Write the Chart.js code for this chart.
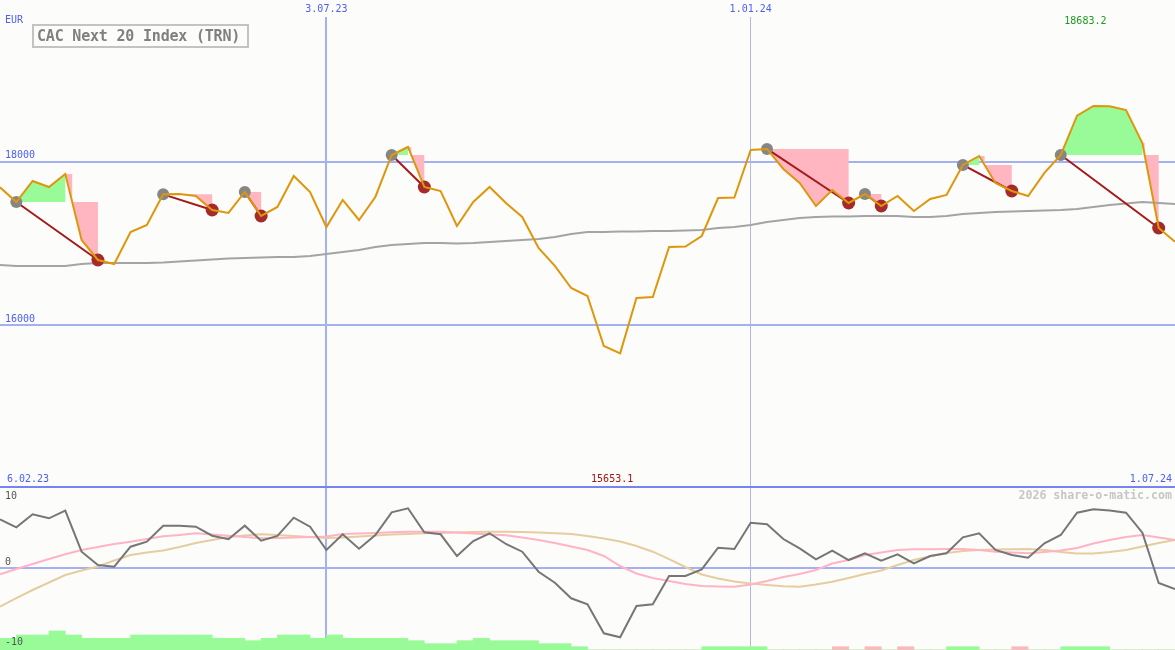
<!DOCTYPE html>
<html>
<head>
<meta charset="utf-8">
<title>CAC Next 20 Index (TRN)</title>
<script src="https://cdn.jsdelivr.net/npm/chart.js@4.4.1/dist/chart.umd.min.js"></script>
<style>
  html, body { margin:0; padding:0; background:#fcfdfa; overflow:hidden; }
  #wrap { position:relative; width:1175px; height:650px; background:#fcfdfa; }
  canvas { position:absolute; left:0; display:block; }
  #cTop { top:0; }
  #cBot { top:488px; }
  .t { position:absolute; font-family:"DejaVu Sans Mono", monospace; white-space:nowrap; line-height:1; }
  #sep { position:absolute; left:0; top:486px; width:1175px; height:2px; background:#7584ee; }
  #legend { position:absolute; left:32px; top:24px; width:217px; height:24px; box-sizing:border-box;
            border:2px solid #c3c3c3; font-family:"DejaVu Sans Mono", monospace; font-size:15px;
            font-weight:bold; color:#808080; line-height:20px; padding-left:3px; white-space:nowrap;
            letter-spacing:-0.2px; }
</style>
</head>
<body>
<div id="wrap">
  <canvas id="cTop" width="1175" height="486"></canvas>
  <canvas id="cBot" width="1175" height="162"></canvas>
  <div id="sep"></div>
  <div class="t" style="left:5px;top:15px;font-size:10px;color:#4d5ef2">EUR</div>
  <div id="legend">CAC Next 20 Index (TRN)</div>
  <div class="t" style="left:7px;top:474px;font-size:10px;color:#4d5ef2">6.02.23</div>
  <div class="t" style="right:3px;top:474px;font-size:10px;color:#4d5ef2">1.07.24</div>
  <div class="t" style="right:3px;top:490px;font-size:11.6px;font-weight:bold;color:#c6c6c6">2026 share-o-matic.com</div>
</div>
<script>
// ---------- data ----------
const startWeek = 1;                       // week position of the first value
const dateTicks = [21, 47];
const dateTickLabels = ['3.07.23', '1.01.24'];
const priceTicks = [16000, 18000];
const oscTicks = [10, 0, -10];

const price = [
  17686, 17506, 17764, 17690, 17849, 17041, 16796, 16747, 17139, 17225,
  17600, 17605, 17580, 17408, 17372, 17629, 17335, 17445, 17825, 17629,
  17200, 17531, 17286, 17568, 18082, 18180, 17690, 17641, 17213, 17506,
  17690, 17494, 17323, 16943, 16723, 16453, 16355, 15743, 15653.1, 16331,
  16343, 16955, 16960, 17090, 17555, 17560, 18143, 18156, 17911, 17739,
  17457, 17653, 17494, 17604, 17457, 17580, 17396, 17543, 17592, 17960,
  18070, 17739, 17641, 17580, 17862, 18082, 18563, 18683.2, 18680, 18633,
  18229, 17188, 17020
];
const avg = [
  16735, 16723, 16723, 16723, 16723, 16747, 16759, 16759, 16759, 16759,
  16766, 16778, 16790, 16802, 16815, 16821, 16827, 16833, 16833, 16845,
  16870, 16894, 16919, 16955, 16980, 16992, 17004, 17004, 16998, 17004,
  17017, 17029, 17041, 17053, 17078, 17115, 17139, 17139, 17145, 17145,
  17151, 17151, 17157, 17164, 17188, 17200, 17225, 17262, 17286, 17311,
  17323, 17329, 17329, 17335, 17335, 17335, 17323, 17323, 17335, 17359,
  17372, 17384, 17390, 17396, 17402, 17408, 17421, 17445, 17470, 17488,
  17506, 17494, 17482
];
const entryWeeks = [2, 11, 16, 25, 48, 54, 60, 66];
const exitWeeks  = [7, 14, 17, 27, 53, 55, 63, 72];

const momentum = [
  7.38, 6.17, 8.14, 7.53, 8.68, 2.47, 0.45, 0.20, 3.23, 3.98,
  6.41, 6.41, 6.26, 4.89, 4.35, 6.41, 4.14, 4.85, 7.62, 6.26,
  2.73, 5.11, 2.92, 5.00, 8.44, 9.05, 5.41, 5.11, 1.82, 4.09,
  5.26, 3.64, 2.47, -0.56, -2.23, -4.59, -5.50, -9.89, -10.50, -5.76,
  -5.50, -1.21, -1.21, -0.20, 3.08, 2.88, 6.86, 6.62, 4.39, 2.98,
  1.32, 2.62, 1.21, 2.23, 1.11, 2.08, 0.71, 1.82, 2.23, 4.65,
  5.26, 2.73, 1.97, 1.56, 3.74, 5.00, 8.38, 8.89, 8.71, 8.38,
  5.35, -2.27, -3.18
];
const oscPink = [
  -0.95, -0.15, 0.61, 1.36, 2.08, 2.73, 3.18, 3.64, 3.98, 4.39,
  4.80, 5.00, 5.26, 5.08, 4.89, 4.70, 4.50, 4.55, 4.62, 4.70,
  4.77, 5.15, 5.23, 5.30, 5.41, 5.50, 5.50, 5.50, 5.38, 5.23,
  5.08, 4.95, 4.62, 4.24, 3.79, 3.26, 2.73, 1.82, 0.30, -0.83,
  -1.52, -1.97, -2.42, -2.73, -2.80, -2.83, -2.50, -1.97, -1.36, -0.91,
  -0.30, 0.68, 1.21, 1.97, 2.35, 2.73, 2.83, 2.85, 2.88, 2.88,
  2.73, 2.47, 2.35, 2.23, 2.42, 2.65, 3.03, 3.71, 4.24, 4.70,
  5.00, 4.62, 4.24
];
const oscTan = [
  -5.86, -4.55, -3.33, -2.20, -1.06, -0.38, 0.23, 1.14, 1.97, 2.35,
  2.65, 3.18, 3.79, 4.24, 4.70, 4.92, 5.11, 5.00, 4.85, 4.70,
  4.55, 4.62, 4.77, 4.92, 5.06, 5.15, 5.26, 5.30, 5.38, 5.45,
  5.50, 5.50, 5.45, 5.38, 5.26, 5.15, 4.85, 4.47, 4.02, 3.33,
  2.47, 1.36, 0.15, -0.98, -1.59, -2.05, -2.35, -2.58, -2.76, -2.83,
  -2.50, -2.08, -1.52, -0.91, -0.38, 0.45, 1.21, 1.77, 2.27, 2.58,
  2.73, 2.80, 2.85, 2.88, 2.73, 2.42, 2.20, 2.20, 2.42, 2.73,
  3.26, 3.79, 4.24
];
const barGreen = [
  11.7, 15, 15, 19, 15, 11.7, 11.7, 11.7, 15, 15,
  15, 15, 15, 11.7, 11.7, 9.3, 11.7, 15, 15, 11.7,
  15, 11.7, 11.7, 11.7, 11.7, 9.3, 6.3, 6.3, 9.3, 11.7,
  9.3, 9.3, 9.3, 6.3, 6.3, 3.3, 0, 0, 0, 0,
  0, 0, 0, 3.3, 3.3, 3.3, 3.3, 0, 0, 0,
  0, 0, 0, 0, 0, 0, 0, 0, 3.3, 3.3,
  0, 0, 0, 0, 0, 3.3, 3.3, 3.3, 0, 0,
  0, 0
];
const barPink = [
  0, 0, 0, 0, 0, 0, 0, 0, 0, 0,
  0, 0, 0, 0, 0, 0, 0, 0, 0, 0,
  0, 0, 0, 0, 0, 0, 0, 0, 0, 0,
  0, 0, 0, 0, 0, 0, 0, 0, 0, 0,
  0, 0, 0, 0, 0, 0, 0, 0, 0, 0,
  0, 3.3, 0, 3.3, 0, 3.3, 0, 0, 0, 0,
  0, 0, 3.3, 0, 0, 0, 0, 0, 0, 0,
  0, 0
];

// ---------- styles ----------
const C = {
  price:'#df960c', avg:'#a4a4a4', link:'#a31a1a', entry:'#868686', exit:'#a52a2a',
  green:'#98fb98', pink:'#ffb6c1', grid:'#a3b1f3', grid2:'#b3b8de', blue:'#4d5ef2',
  mom:'#767676', oPink:'#ffb3c5', oTan:'#e5cd9f'
};
const FONT = 'DejaVu Sans Mono';
Chart.defaults.font.family = FONT;

const xy = arr => arr.map((v, k) => ({x: startWeek + k, y: v}));
const P = w => price[w - startWeek];
const xMin = startWeek, xMax = startWeek + price.length - 1;

// ---------- trade fills / links ----------
const polyDs = (pts, color) => ({
  type:'line', data:pts, fill:'shape', backgroundColor:color,
  borderColor:'rgba(0,0,0,0)', borderWidth:0, pointRadius:0, order:5
});
const tradeSets = [];
entryWeeks.forEach((e, t) => {
  const X = exitWeeks[t];
  const E = P(e);
  let L = e;
  for (let w = e; w < X; w++) if (P(w) >= E) L = w;
  if (L > e) {
    const g = [{x:e, y:E}];
    for (let w = e; w <= L; w++) g.push({x:w, y:P(w)});
    g.push({x:L, y:E});
    tradeSets.push(polyDs(g, C.green));
  }
  const PL = P(L), PN = P(L + 1);
  const xc = L + (PL > E ? (PL - E) / (PL - PN) : 0);
  const p = [{x:L, y:PL}, {x:xc, y:PL}, {x:xc, y:E}, {x:X, y:E}, {x:X, y:P(X)}];
  for (let w = X - 1; w > L; w--) p.push({x:w, y:P(w)});
  tradeSets.push(polyDs(p, C.pink));
  tradeSets.push({type:'line', data:[{x:e, y:E}, {x:X, y:P(X)}], borderColor:C.link,
                  borderWidth:2, pointRadius:0, fill:false, order:2});
});

const gridColor = c => c.index === 0 ? C.grid : C.grid2;
const gridWidth = c => c.index === 0 ? 2 : 1;
const noPad = s => { s.paddingLeft = 0; s.paddingRight = 0; s.paddingTop = 0; s.paddingBottom = 0; };
const common = {
  responsive:false, animation:false, devicePixelRatio:1, events:[],
  layout:{padding:0, autoPadding:false},
  elements:{line:{tension:0}, point:{radius:0}},
  plugins:{legend:{display:false}, tooltip:{enabled:false}}
};

// ---------- top chart ----------
const extremes = {
  id:'extremes',
  afterDatasetsDraw(chart) {
    const {ctx, scales:{x}} = chart;
    let hi = 0, lo = 0;
    price.forEach((v, k) => { if (v > price[hi]) hi = k; if (v < price[lo]) lo = k; });
    ctx.save();
    ctx.font = '10px "' + FONT + '"';
    ctx.textAlign = 'center'; ctx.textBaseline = 'middle';
    ctx.fillStyle = '#1f9a1f';
    ctx.fillText(price[hi].toFixed(1), x.getPixelForValue(startWeek + hi) - 8, 21);
    ctx.fillStyle = '#a01515';
    ctx.fillText(price[lo].toFixed(1), x.getPixelForValue(startWeek + lo) - 8, 479);
    ctx.restore();
  }
};

new Chart(document.getElementById('cTop'), {
  type:'line',
  data:{datasets:[
    {data:xy(price), borderColor:C.price, borderWidth:2, fill:false, order:0},
    {data:entryWeeks.map(w => ({x:w, y:P(w)})), showLine:false, pointRadius:6,
     pointBackgroundColor:C.entry, pointBorderWidth:0, order:1},
    {data:exitWeeks.map(w => ({x:w, y:P(w)})), showLine:false, pointRadius:6.5,
     pointBackgroundColor:C.exit, pointBorderWidth:0, order:1},
    {data:xy(avg), borderColor:C.avg, borderWidth:2, fill:false, order:3},
    ...tradeSets
  ]},
  options:{
    ...common,
    scales:{
      x:{
        type:'linear', position:'top', min:xMin, max:xMax, offset:false,
        afterBuildTicks: s => { s.ticks = dateTicks.map(v => ({value:v})); },
        afterFit: s => { s.height = 17; noPad(s); },
        ticks:{autoSkip:false, maxRotation:0, minRotation:0, padding:2, color:C.blue,
               font:{family:FONT, size:10}, callback: v => dateTickLabels[dateTicks.indexOf(v)]},
        grid:{offset:false, drawTicks:false, color:gridColor, lineWidth:gridWidth},
        border:{display:false}
      },
      y:{
        type:'linear', position:'left', min:14028, max:19772,
        afterBuildTicks: s => { s.ticks = priceTicks.map(v => ({value:v})); },
        afterFit: s => { s.width = 0; noPad(s); },
        ticks:{mirror:true, padding:5, labelOffset:-6, color:C.blue,
               font:{family:FONT, size:10}, callback: v => String(v)},
        grid:{offset:false, drawTicks:false, color:C.grid, lineWidth:2},
        border:{display:false}
      }
    }
  },
  plugins:[extremes]
});

// ---------- bottom chart ----------
const oscLabels = {
  id:'oscLabels',
  afterDraw(chart) {
    const {ctx, scales:{y}} = chart;
    const shift = [-6, -6, 8];
    ctx.save();
    ctx.font = '10px "' + FONT + '"';
    ctx.fillStyle = '#555555'; ctx.textAlign = 'left'; ctx.textBaseline = 'middle';
    oscTicks.forEach((v, k) => ctx.fillText(String(v), 5, y.getPixelForValue(v) + shift[k]));
    ctx.restore();
  }
};
const barXY = arr => arr.map((v, k) => ({x: startWeek + k + 0.5, y: v}));

new Chart(document.getElementById('cBot'), {
  type:'line',
  data:{datasets:[
    {data:xy(momentum), borderColor:C.mom, borderWidth:2, fill:false, order:0},
    {data:xy(oscPink), borderColor:C.oPink, borderWidth:2, fill:false, order:1},
    {data:xy(oscTan), borderColor:C.oTan, borderWidth:2, fill:false, order:2},
    {type:'bar', data:barXY(barGreen), yAxisID:'yb', backgroundColor:C.green, borderWidth:0,
     grouped:false, barPercentage:1, categoryPercentage:1, order:5},
    {type:'bar', data:barXY(barPink), yAxisID:'yb', backgroundColor:C.pink, borderWidth:0,
     grouped:false, barPercentage:1, categoryPercentage:1, order:5}
  ]},
  options:{
    ...common,
    scales:{
      x:{
        type:'linear', position:'bottom', min:xMin, max:xMax, offset:false,
        afterBuildTicks: s => { s.ticks = dateTicks.map(v => ({value:v})); },
        afterFit: s => { s.height = 0; noPad(s); },
        ticks:{display:false},
        grid:{offset:false, drawTicks:false, color:gridColor, lineWidth:gridWidth},
        border:{display:false}
      },
      y:{
        type:'linear', position:'left', min:-12.42, max:12.12,
        afterBuildTicks: s => { s.ticks = [{value:0}]; },
        afterFit: s => { s.width = 0; noPad(s); },
        ticks:{display:false},
        grid:{offset:false, drawTicks:false, color:C.grid, lineWidth:2},
        border:{display:false}
      },
      yb:{type:'linear', display:false, min:0, max:162}
    }
  },
  plugins:[oscLabels]
});
</script>
</body>
</html>
